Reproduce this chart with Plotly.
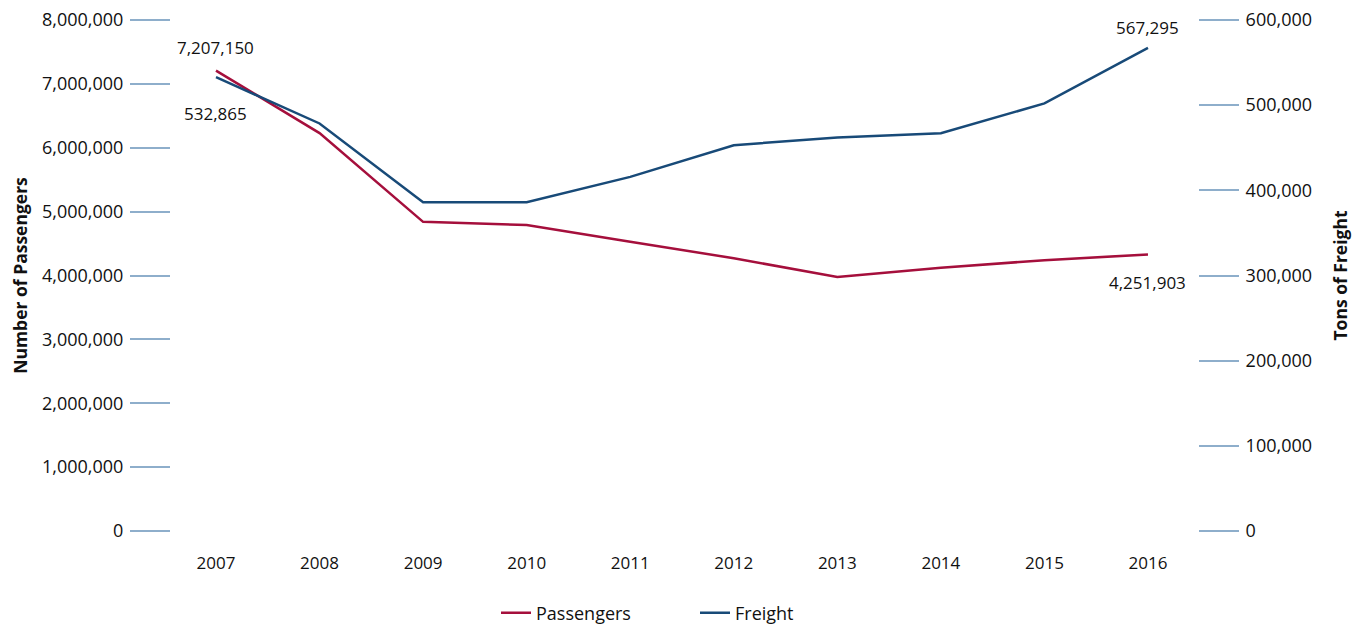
import plotly.graph_objects as go

years = [2007, 2008, 2009, 2010, 2011, 2012, 2013, 2014, 2015, 2016]
passengers = [7207150, 6230000, 4840000, 4790000, 4530000, 4270000, 3975000, 4120000, 4240000, 4330000]
freight = [532865, 478500, 386000, 386000, 415800, 453000, 462000, 467000, 502000, 567295]

# data labels printed on the chart
passenger_labels = {0: "7,207,150", 9: "4,251,903"}
freight_labels = {0: "532,865", 9: "567,295"}

left_ticks = [0, 1000000, 2000000, 3000000, 4000000, 5000000, 6000000, 7000000, 8000000]
right_ticks = [0, 100000, 200000, 300000, 400000, 500000, 600000]

RED = "#a50f3c"
BLUE = "#184a78"
TICK = "#8eaecb"
FONT = "Open Sans"

W, H = 1354, 616

fig = go.Figure()
fig.add_trace(go.Scatter(x=years, y=passengers, name="Passengers", mode="lines",
                         line=dict(color=RED, width=2.5), yaxis="y"))
fig.add_trace(go.Scatter(x=years, y=freight, name="Freight", mode="lines",
                         line=dict(color=BLUE, width=2.5), yaxis="y2"))

ann_font = dict(family=FONT, size=17, color="#111111")
fig.add_annotation(x=years[0], y=passengers[0], yref="y", text=passenger_labels[0],
                   showarrow=False, yshift=23, font=ann_font)
fig.add_annotation(x=years[0], y=freight[0], yref="y2", text=freight_labels[0],
                   showarrow=False, yshift=-36, font=ann_font)
fig.add_annotation(x=years[-1], y=freight[-1], yref="y2", text=freight_labels[9],
                   showarrow=False, yshift=20, font=ann_font)
fig.add_annotation(x=years[-1], y=passengers[-1], yref="y", text=passenger_labels[9],
                   showarrow=False, yshift=-28, font=ann_font)

fig.update_layout(
    width=W, height=H,
    margin=dict(l=163, r=164, t=12, b=93, autoexpand=False),
    paper_bgcolor="white", plot_bgcolor="white",
    font=dict(family=FONT, size=18, color="#111111"),
    xaxis=dict(range=[2006.5655, 2016.483], tickvals=years, ticktext=[str(y) for y in years],
               showgrid=False, showline=False, zeroline=False, ticks="", automargin=False,
               ticklabelstandoff=20, tickfont=dict(size=17)),
    yaxis=dict(range=[0, 8000000], tickvals=left_ticks, tickformat=",", automargin=False,
               showgrid=False, showline=False, zeroline=False,
               ticks="outside", ticklen=40, tickcolor=TICK, tickwidth=1.5,
               ticklabelstandoff=3, ticklabeloverflow="allow",
               title=dict(text="<b>Number of Passengers</b>", font=dict(size=17.5), standoff=20)),
    yaxis2=dict(range=[0, 600000], tickvals=right_ticks, tickformat=",", automargin=False,
                overlaying="y", side="right",
                showgrid=False, showline=False, zeroline=False,
                ticks="outside", ticklen=40, tickcolor=TICK, tickwidth=1.5,
                ticklabelstandoff=3, ticklabeloverflow="allow",
                title=dict(text="<b>Tons of Freight</b>", font=dict(size=17.5), standoff=23)),
    legend=dict(orientation="h", xref="container", yref="container",
                x=488 / W, xanchor="left", y=1 - 605 / H, yanchor="middle",
                entrywidth=154, entrywidthmode="pixels", itemwidth=30, font=dict(size=18)),
    showlegend=True,
)

fig.write_html("out.html")
